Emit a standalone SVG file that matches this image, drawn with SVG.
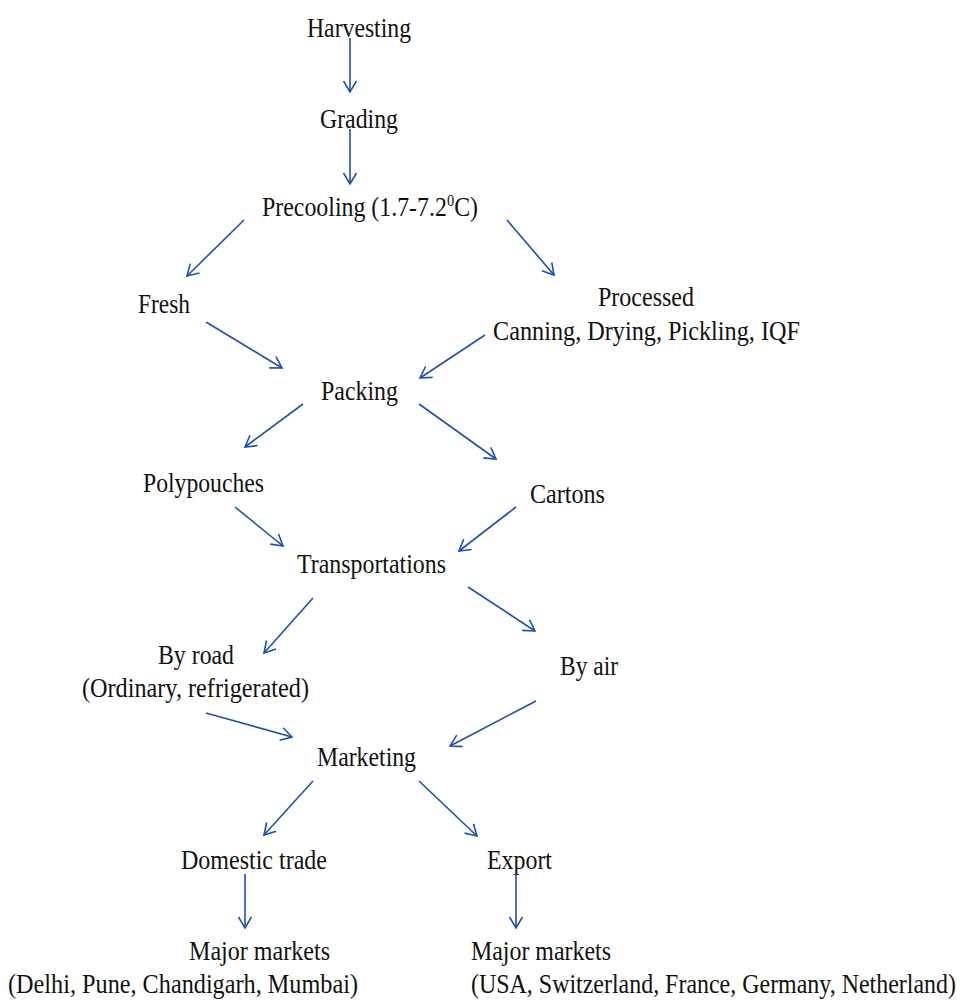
<svg xmlns="http://www.w3.org/2000/svg" width="960" height="1001" viewBox="0 0 960 1001">
<style>
text{font-family:'Liberation Serif','Times New Roman',Tinos,'DejaVu Serif',serif;font-size:28px;fill:#111;}
.c line{stroke:#1f4fb0;stroke-width:1.6;fill:none;marker-end:url(#ah);}
</style>
<defs>
<marker id="ah" markerUnits="userSpaceOnUse" markerWidth="20" markerHeight="20" refX="12" refY="7" orient="auto">
<path d="M1,0.5 L12,7 L1,13.5" fill="none" stroke="#1f4fb0" stroke-width="1.6"/>
</marker>
</defs>
<rect width="960" height="1001" fill="#fff"/>
<g id="harvesting"><text x="307" y="37" textLength="104" lengthAdjust="spacingAndGlyphs">Harvesting</text></g>
<g id="grading"><text x="320" y="128" textLength="78" lengthAdjust="spacingAndGlyphs">Grading</text></g>
<g id="precooling"><text x="262" y="216" textLength="216" lengthAdjust="spacingAndGlyphs">Precooling (1.7-7.2<tspan font-size="17" dy="-10">0</tspan><tspan dy="10">C)</tspan></text></g>
<g id="fresh"><text x="138" y="313" textLength="52" lengthAdjust="spacingAndGlyphs">Fresh</text></g>
<g id="processed"><text x="598" y="306" textLength="96" lengthAdjust="spacingAndGlyphs">Processed</text><text x="493" y="340" textLength="307" lengthAdjust="spacingAndGlyphs">Canning, Drying, Pickling, IQF</text></g>
<g id="packing"><text x="321" y="400" textLength="77" lengthAdjust="spacingAndGlyphs">Packing</text></g>
<g id="polypouches"><text x="143" y="492" textLength="121" lengthAdjust="spacingAndGlyphs">Polypouches</text></g>
<g id="cartons"><text x="530" y="503" textLength="75" lengthAdjust="spacingAndGlyphs">Cartons</text></g>
<g id="transportations"><text x="297" y="573" textLength="149" lengthAdjust="spacingAndGlyphs">Transportations</text></g>
<g id="byroad"><text x="158" y="664" textLength="76" lengthAdjust="spacingAndGlyphs">By road</text><text x="82" y="697" textLength="227" lengthAdjust="spacingAndGlyphs">(Ordinary, refrigerated)</text></g>
<g id="byair"><text x="560" y="675" textLength="58" lengthAdjust="spacingAndGlyphs">By air</text></g>
<g id="marketing"><text x="317" y="766" textLength="99" lengthAdjust="spacingAndGlyphs">Marketing</text></g>
<g id="domestic"><text x="181" y="869" textLength="146" lengthAdjust="spacingAndGlyphs">Domestic trade</text></g>
<g id="export"><text x="487" y="869" textLength="65" lengthAdjust="spacingAndGlyphs">Export</text></g>
<g id="majordomestic"><text x="189" y="960" textLength="141" lengthAdjust="spacingAndGlyphs">Major markets</text><text x="8" y="993" textLength="350" lengthAdjust="spacingAndGlyphs">(Delhi, Pune, Chandigarh, Mumbai)</text></g>
<g id="majorexport"><text x="471" y="960" textLength="140" lengthAdjust="spacingAndGlyphs">Major markets</text><text x="471" y="993" textLength="485" lengthAdjust="spacingAndGlyphs">(USA, Switzerland, France, Germany, Netherland)</text></g>
<g id="connectors" class="c">
<line x1="350" y1="38" x2="350" y2="92"/>
<line x1="350" y1="129" x2="350" y2="184"/>
<line x1="244" y1="220" x2="187" y2="276"/>
<line x1="507" y1="220" x2="554" y2="275"/>
<line x1="206" y1="322" x2="282" y2="368"/>
<line x1="485" y1="335" x2="420" y2="378"/>
<line x1="303" y1="404" x2="245" y2="447"/>
<line x1="419" y1="404" x2="496" y2="459"/>
<line x1="235" y1="507" x2="283" y2="546"/>
<line x1="516" y1="507" x2="459" y2="551"/>
<line x1="313" y1="598" x2="264" y2="653"/>
<line x1="468" y1="587" x2="535" y2="631"/>
<line x1="206" y1="713" x2="292" y2="737"/>
<line x1="536" y1="701" x2="450" y2="746"/>
<line x1="313" y1="781" x2="264" y2="835"/>
<line x1="419" y1="781" x2="477" y2="836"/>
<line x1="245" y1="874" x2="245" y2="928"/>
<line x1="516" y1="874" x2="516" y2="928"/>
</g>
</svg>
